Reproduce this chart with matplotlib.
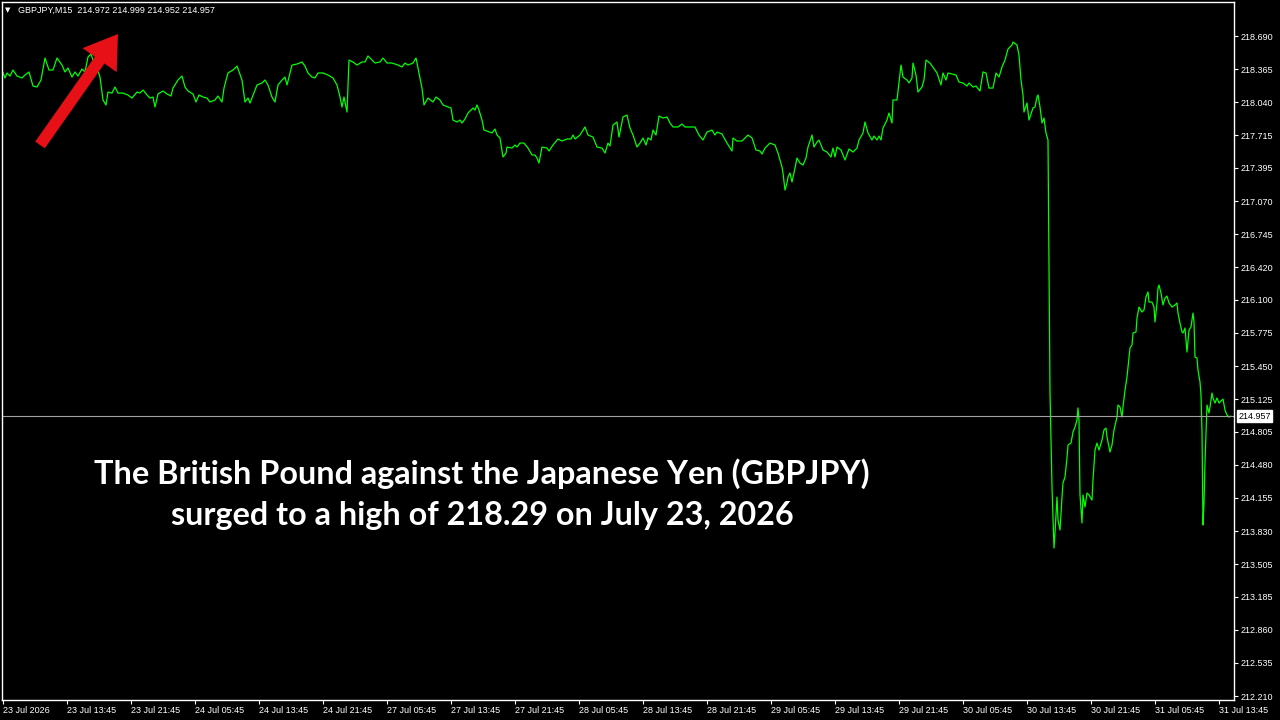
import matplotlib.pyplot as plt
from matplotlib.patches import FancyArrowPatch

# chart header / current quote
symbol = "GBPJPY,M15"
last_ohlc = [214.972, 214.999, 214.952, 214.957]
last_price = 214.957

# x axis: one tick every 32 M15 bars (8 hours)
x_tick_bars = list(range(0, 640, 32))
x_tick_labels = ["23 Jul 2026", "23 Jul 13:45", "23 Jul 21:45", "24 Jul 05:45",
                 "24 Jul 13:45", "24 Jul 21:45", "27 Jul 05:45", "27 Jul 13:45",
                 "27 Jul 21:45", "28 Jul 05:45", "28 Jul 13:45", "28 Jul 21:45",
                 "29 Jul 05:45", "29 Jul 13:45", "29 Jul 21:45", "30 Jul 05:45",
                 "30 Jul 13:45", "30 Jul 21:45", "31 Jul 05:45", "31 Jul 13:45"]

y_ticks = [218.690, 218.365, 218.040, 217.715, 217.395, 217.070, 216.745,
           216.420, 216.100, 215.775, 215.450, 215.125, 214.805, 214.480,
           214.155, 213.830, 213.505, 213.185, 212.860, 212.535, 212.210]

# close prices (bar number, price)
bars_1 = [0, 1, 2, 3.5, 5, 7, 9.5, 11, 13, 15,
          17, 19, 21, 23, 25, 27, 29.5, 31, 32.5, 34.5,
          36, 37.5, 39.5, 41, 42.5, 44, 45, 47, 48.5, 50,
          51.5, 52.5, 54.5, 56, 57.5, 60, 62.5, 64.5, 67, 68.5,
          70, 72, 73.5, 75, 76, 77.5, 80, 82, 84, 85,
          87.5, 89.5, 91, 92.5, 95, 96.5, 98, 100, 102, 103.5,
          106, 107.5, 109.5, 110.5, 112.5, 115, 117, 119.5, 121, 122.5]
prices_1 = [218.330, 218.278, 218.327, 218.297, 218.356, 218.297, 218.278, 218.307, 218.337, 218.199,
            218.189, 218.258, 218.474, 218.356, 218.356, 218.474, 218.405, 218.337, 218.376, 218.287,
            218.337, 218.297, 218.366, 218.337, 218.484, 218.513, 218.454, 218.376, 218.287, 218.062,
            218.013, 218.140, 218.130, 218.189, 218.130, 218.130, 218.111, 218.081, 218.140, 218.130,
            218.160, 218.111, 218.081, 218.091, 217.993, 218.121, 218.150, 218.121, 218.101, 218.179,
            218.258, 218.297, 218.189, 218.150, 218.121, 218.042, 218.111, 218.091, 218.081, 218.042,
            218.062, 218.101, 218.042, 218.179, 218.327, 218.356, 218.395, 218.258, 218.042, 218.081]

bars_2 = [123.5, 127, 129.5, 131, 132.5, 134.5, 136, 137.5, 139.5, 141,
          142, 144.5, 147, 149.5, 151, 152.5, 154.5, 156, 157.5, 160,
          162.5, 165, 167, 168.5, 169.5, 170.5, 172, 173, 175, 177,
          179.5, 181, 182.5, 184.5, 186, 188.5, 190, 192, 194.5, 197.5,
          199.5, 201, 202.5, 205, 206.5, 208, 209.5, 210.5, 212.5, 215,
          216.5, 218.5, 220, 222.5]
prices_2 = [218.032, 218.209, 218.229, 218.258, 218.209, 218.091, 218.042, 218.209, 218.258, 218.287,
            218.209, 218.405, 218.415, 218.435, 218.395, 218.327, 218.287, 218.278, 218.327, 218.327,
            218.307, 218.278, 218.209, 218.091, 217.993, 218.091, 217.944, 218.454, 218.435, 218.405,
            218.435, 218.435, 218.494, 218.454, 218.425, 218.435, 218.474, 218.425, 218.425, 218.405,
            218.386, 218.425, 218.405, 218.425, 218.474, 218.327, 218.179, 218.013, 218.081, 218.042,
            218.091, 218.062, 218.013, 217.993]

bars_3 = [224, 225, 227, 228.5, 229.5, 231, 232.5, 235, 236, 237,
          238, 239.5, 240.5, 242, 244.5, 246, 247, 248.5, 250, 251.5,
          252, 254.5, 256, 257, 258.5, 260.5, 262.5, 264.5, 266, 267,
          268, 269.5, 272, 273, 275, 277.5, 279.5, 282, 284, 285,
          286, 288.5, 291, 292.5, 295, 297, 299.5, 301, 302.5, 303.5,
          305, 307, 308, 310, 312, 313.5, 315, 317, 318.5, 320,
          321.5, 322.5, 324, 325, 326.5, 328, 330, 332, 333.5, 335,
          337.5, 339.5, 341, 343.5, 346, 348]
prices_3 = [217.983, 217.865, 217.846, 217.865, 217.836, 217.875, 217.934, 217.983, 217.963, 218.013,
            217.963, 217.865, 217.767, 217.757, 217.738, 217.777, 217.718, 217.689, 217.502, 217.541,
            217.600, 217.590, 217.620, 217.600, 217.639, 217.639, 217.590, 217.522, 217.522, 217.492,
            217.443, 217.600, 217.590, 217.561, 217.620, 217.679, 217.659, 217.679, 217.679, 217.718,
            217.679, 217.718, 217.797, 217.718, 217.698, 217.600, 217.590, 217.541, 217.639, 217.610,
            217.816, 217.846, 217.698, 217.895, 217.914, 217.787, 217.718, 217.600, 217.639, 217.689,
            217.620, 217.689, 217.669, 217.767, 217.718, 217.905, 217.885, 217.895, 217.836, 217.797,
            217.797, 217.826, 217.797, 217.797, 217.797, 217.718]

bars_4 = [350, 352, 354.5, 356, 357, 359.5, 362, 364.5, 365, 367,
          369.5, 372.5, 374.5, 376.5, 378.5, 379.5, 381, 383.5, 386, 387.5,
          389.5, 390, 391, 392, 392.5, 393.5, 394.5, 396, 397, 398.5,
          400, 401.5, 402.5, 404.5, 405.5, 407, 408, 410, 412, 414,
          415, 416, 417, 419, 421, 423, 425, 427, 428, 430,
          431, 432.5, 434.5, 435.5, 437, 438, 439, 440, 442, 443,
          444.5, 445, 447, 448, 449, 450, 452, 453, 454.5, 455,
          456.5, 457.5, 459.5, 460.5, 461.5, 463.5, 466, 467, 469, 470,
          471.5, 472.5]
prices_4 = [217.669, 217.747, 217.767, 217.718, 217.747, 217.728, 217.639, 217.561, 217.689, 217.659,
            217.659, 217.718, 217.689, 217.571, 217.561, 217.531, 217.590, 217.639, 217.620, 217.541,
            217.404, 217.345, 217.178, 217.247, 217.306, 217.345, 217.257, 217.394, 217.492, 217.443,
            217.423, 217.492, 217.600, 217.718, 217.600, 217.649, 217.669, 217.571, 217.551, 217.502,
            217.590, 217.502, 217.600, 217.571, 217.473, 217.581, 217.551, 217.590, 217.669, 217.738,
            217.846, 217.738, 217.669, 217.708, 217.669, 217.708, 217.669, 217.787, 217.865, 217.934,
            217.836, 218.062, 218.062, 218.229, 218.405, 218.287, 218.258, 218.229, 218.278, 218.425,
            218.307, 218.140, 218.189, 218.258, 218.454, 218.425, 218.356, 218.327, 218.209, 218.327,
            218.258, 218.327]

bars_5 = [474.5, 476.5, 478, 480, 482, 483, 485, 486.5, 488.5, 490,
          491.5, 493, 495, 496.5, 498, 499.5, 501, 502.5, 504.5, 505,
          507, 508, 509, 510, 510.5, 512, 513, 515, 516, 517,
          517.5, 518.5, 519.5, 520.5, 521.5, 522.5, 523.5, 524.5, 525.5, 526,
          527, 527.5, 528.5, 529.5, 530, 531, 532, 532.5, 534, 535,
          536, 537, 537.5, 538, 538.5, 539.5, 540, 541, 542, 543,
          544.5, 545, 546, 547, 548, 549.5, 550.5, 551.5, 552, 553.5,
          554.5, 555.5, 557, 557.5, 558.5, 559.5, 560, 561, 562, 563,
          563.5, 564.5, 565, 566.5, 567, 568, 569.5, 570.5, 571.5, 572.5,
          573, 574.5, 575.5, 576, 577, 577.5, 578, 579, 580, 581,
          582, 583, 584.5, 586, 587, 587.5, 588.5, 589.5, 590, 591,
          592, 593, 594, 595, 595.5, 596, 597, 597.5, 598.5, 599,
          599.5, 600, 600.5, 601, 601.5, 602, 603, 603.5, 604.5, 605,
          606, 607, 608, 609.5, 610, 611, 612, 613, 614]
prices_5 = [218.317, 218.307, 218.238, 218.229, 218.199, 218.229, 218.189, 218.199, 218.150, 218.337,
            218.327, 218.179, 218.179, 218.327, 218.287, 218.386, 218.454, 218.562, 218.602, 218.631,
            218.602, 218.503, 218.258, 218.111, 217.944, 218.032, 217.865, 217.983, 217.993, 218.091,
            218.111, 217.993, 217.836, 217.885, 217.738, 217.669, 215.195, 214.262, 213.663, 213.810,
            214.164, 213.938, 213.840, 214.164, 214.301, 214.360, 214.547, 214.674, 214.694, 214.802,
            214.851, 214.920, 215.038, 214.920, 214.184, 213.909, 214.184, 214.066, 214.203, 214.184,
            214.134, 214.331, 214.625, 214.694, 214.625, 214.724, 214.822, 214.841, 214.753, 214.606,
            214.674, 214.822, 214.949, 215.067, 215.048, 214.949, 215.048, 215.214, 215.342, 215.538,
            215.627, 215.656, 215.774, 215.784, 215.921, 216.029, 215.980, 216.000, 216.128, 216.177,
            216.078, 216.078, 216.029, 215.882, 216.069, 216.216, 216.245, 216.167, 216.049, 216.118,
            216.137, 216.069, 216.029, 216.049, 216.069, 215.970, 215.872, 215.784, 215.774, 215.823,
            215.587, 215.803, 215.833, 215.970, 215.882, 215.538, 215.529, 215.411, 215.293, 215.165,
            214.802, 213.889, 214.105, 214.508, 214.802, 215.067, 214.989, 215.048, 215.185, 215.136,
            215.086, 215.136, 215.086, 215.116, 215.126, 215.018, 214.969, 214.949, 214.957]

bars = bars_1 + bars_2 + bars_3 + bars_4 + bars_5
prices = prices_1 + prices_2 + prices_3 + prices_4 + prices_5

caption = ("The British Pound against the Japanese Yen (GBPJPY)\n"
           "surged to a high of 218.29 on July 23, 2026")

small_font = "Liberation Sans"

fig = plt.figure(figsize=(12.8, 7.2), dpi=100, facecolor="black")
ax = fig.add_axes([2 / 1280, 20 / 720, 1232 / 1280, 698 / 720])
ax.set_facecolor("black")

ax.plot(bars, prices, color="#00ff00", lw=0.9)
ax.axhline(last_price, color="#a0a0a0", lw=0.8)

ax.set_xlim(-0.5, 615.5)
ax.set_ylim(212.171, 219.024)

for side in ["left", "right", "top", "bottom"]:
    ax.spines[side].set_color("white")
    ax.spines[side].set_linewidth(1.0)

ax.yaxis.tick_right()
ax.set_yticks(y_ticks)
ax.set_yticklabels([f"{v:.3f}" for v in y_ticks], fontsize=6.5,
                   family=small_font, color="white")
ax.set_xticks(x_tick_bars)
ax.set_xticklabels(x_tick_labels, fontsize=6.5, family=small_font,
                   color="white", ha="left")
ax.tick_params(axis="both", colors="white", length=3, width=0.8, pad=2)
ax.tick_params(axis="x", pad=1)

# current price box on the price scale
ax.annotate(f"{last_price:.3f}", xy=(1, last_price), xycoords=ax.get_yaxis_transform(),
            xytext=(3, 0), textcoords="offset points", ha="left", va="center",
            fontsize=6.5, family=small_font, color="black",
            bbox=dict(boxstyle="square,pad=0.15", fc="white", ec="white"))

# header line
fig.text(5 / 1280, 1 - 10 / 720, "\u25bc", fontsize=5, color="white",
         va="center", ha="left", family="DejaVu Sans")
header = symbol + "  " + " ".join(f"{v:.3f}" for v in last_ohlc)
fig.text(18 / 1280, 1 - 10 / 720, header, fontsize=6.5, color="white",
         va="center", ha="left", family=small_font)

# red arrow
arrow = FancyArrowPatch((40, 720 - 145), (118, 720 - 34), transform=None,
                        arrowstyle="simple,head_length=1.15,head_width=1.5,tail_width=0.42",
                        mutation_scale=20, color="#e61016", lw=0,
                        shrinkA=0, shrinkB=0)
fig.patches.append(arrow)

fig.text(482 / 1280, 1 - 494 / 720, caption, fontsize=23.3, fontweight="bold",
         family="Lato", color="white", ha="center", va="center",
         linespacing=1.5)

plt.savefig("out.png", dpi=100, facecolor="black")
